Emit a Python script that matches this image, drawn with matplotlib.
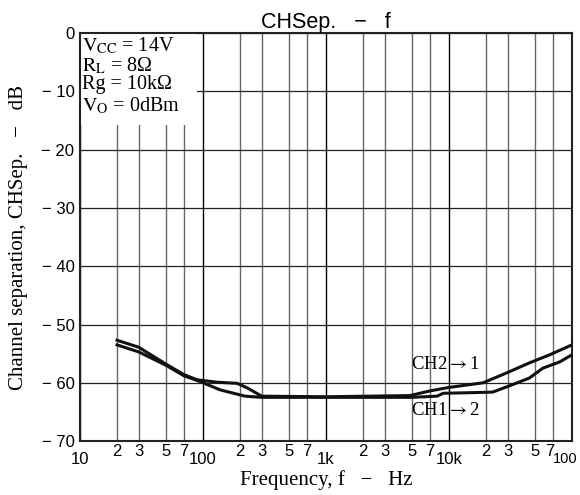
import numpy as np
import matplotlib
matplotlib.use("Agg")
from matplotlib import pyplot as plt
from matplotlib.patches import Rectangle
from matplotlib.transforms import ScaledTranslation

plt.rcParams['mathtext.fontset'] = 'stix'

# data
freq_a = [20, 30, 50, 70, 90, 130, 190, 230, 300, 1000, 4800, 7000, 10000, 19000, 29500, 45000, 66000, 100000]
sep_a = [-52.7, -53.9, -56.8, -58.6, -59.5, -59.9, -60.1, -60.9, -62.3, -62.4, -62.2, -61.4, -60.8, -60.0, -58.3, -56.6, -55.2, -53.5]
freq_b = [20, 30, 50, 70, 95, 137, 220, 300, 1000, 5000, 8000, 9000, 15000, 22700, 29500, 45000, 58000, 80000, 100000]
sep_b = [-53.5, -54.7, -57.0, -58.8, -59.8, -61.2, -62.3, -62.5, -62.5, -62.5, -62.3, -61.8, -61.7, -61.6, -60.7, -59.2, -57.5, -56.4, -55.2]

major_x = [10, 100, 1000, 10000, 100000]
major_lbl = ['10', '100', '1k', '10k', '100']
minor_x = [m * d for d in [10, 100, 1000, 10000] for m in (2, 3, 5, 7)]
minor_lbl = ['2', '3', '5', '7'] * 4
y_ticks = [0, -10, -20, -30, -40, -50, -60, -70]
y_lbl = ['0'] + ['\u2212 %d' % abs(v) for v in y_ticks[1:]]

conditions = [r'$\mathrm{V_{CC}}$ = 14V', r'$\mathrm{R_L}$ = 8Ω', 'Rg = 10kΩ', r'$\mathrm{V_O}$ = 0dBm']

serif = ['Liberation Serif', 'DejaVu Serif']
sans = ['Liberation Sans', 'DejaVu Sans']

fig = plt.figure(figsize=(5.8, 4.95), dpi=100)
ax = fig.add_axes([0.138, 0.109, 0.848, 0.824])

ax.plot(freq_a, sep_a, color='#111111', lw=2.2, zorder=3)
ax.plot(freq_b, sep_b, color='#111111', lw=2.2, zorder=3)

ax.set_xscale('log')
ax.set_xlim(10, 100000)
ax.set_ylim(-70, 0)

ax.set_xticks(major_x)
ax.set_xticklabels(major_lbl, family=sans, fontsize=12)
ax.set_xticks(minor_x, minor=True)
ax.set_xticklabels(minor_lbl, minor=True, family=sans, fontsize=12)
ax.tick_params(axis='x', which='major', length=0, pad=8)
ax.tick_params(axis='x', which='minor', length=0, pad=2)
ax.set_yticks(y_ticks)
ax.set_yticklabels(y_lbl, family=sans, fontsize=12)
ax.tick_params(axis='y', length=0, pad=4)

# the right-hand "100" is squeezed in against the edge, as in the original
last = ax.get_xticklabels()[-1]
last.set_fontsize(10.5)
last.set_ha('right')
last.set_transform(last.get_transform() + ScaledTranslation(4 / 72, 0, fig.dpi_scale_trans))
seven = ax.get_xticklabels(minor=True)[-1]
seven.set_transform(seven.get_transform() + ScaledTranslation(-2 / 72, 0, fig.dpi_scale_trans))

ax.set_axisbelow(True)
ax.grid(True, which='major', axis='x', color='black', lw=1.0)
ax.grid(True, which='minor', axis='x', color='#666666', lw=1.0)
ax.grid(True, which='major', axis='y', color='#222222', lw=0.9)
for s in ax.spines.values():
    s.set_linewidth(1.5)
    s.set_color('#222222')

ax.add_patch(Rectangle((0, 0.775), 0.238, 0.225, transform=ax.transAxes,
                       facecolor='white', edgecolor='none', zorder=1))
for i, t in enumerate(conditions):
    ax.text(0.003, 0.995 - i * 0.049, t, transform=ax.transAxes, family=serif,
            fontsize=14.5, va='top', ha='left', zorder=4)

ax.text(9300, -56.9, r'CH2$\rightarrow$1', family=serif, fontsize=13.5, ha='center', va='center', zorder=4)
ax.text(9300, -64.7, r'CH1$\rightarrow$2', family=serif, fontsize=13.5, ha='center', va='center', zorder=4)

ax.set_title('CHSep.   \u2212   f', family=sans, fontsize=15.5, pad=2)
ax.set_xlabel('Frequency, f   \u2212   Hz', family=serif, fontsize=15, labelpad=2)
ax.set_ylabel('Channel separation, CHSep.   \u2212   dB', family=serif, fontsize=15, labelpad=10)

fig.savefig('out.png', dpi=100)
